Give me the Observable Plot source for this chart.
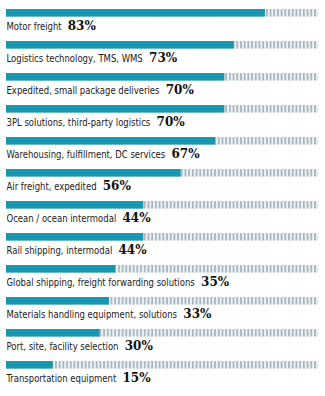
<!DOCTYPE html>
<html>
<head>
<meta charset="utf-8">
<script src="https://cdn.jsdelivr.net/npm/d3@7"></script>
<script src="https://cdn.jsdelivr.net/npm/@observablehq/plot@0.6"></script>
<style>
  html, body { margin: 0; padding: 0; background: #fff; }
  #chart svg { display: block; }
</style>
</head>
<body>
<div id="chart"></div>
<script>
const categories = [
  "Motor freight",
  "Logistics technology, TMS, WMS",
  "Expedited, small package deliveries",
  "3PL solutions, third-party logistics",
  "Warehousing, fulfillment, DC services",
  "Air freight, expedited",
  "Ocean / ocean intermodal",
  "Rail shipping, intermodal",
  "Global shipping, freight forwarding solutions",
  "Materials handling equipment, solutions",
  "Port, site, facility selection",
  "Transportation equipment"
];
const values = [83, 73, 70, 70, 67, 56, 44, 44, 35, 33, 30, 15];
const maxValue = 100;

const data = categories.map((c, i) => ({category: c, value: values[i], max: maxValue, pct: values[i] + "%"}));

const W = 325, H = 396;
const marginTop = 6, marginBottom = 1;
const band = (H - marginTop - marginBottom) / categories.length;
const barH = 8;
const labelScale = 0.9;

const chart = Plot.plot({
  width: W,
  height: H,
  marginTop,
  marginBottom,
  marginLeft: 6,
  marginRight: 7,
  x: {domain: [0, maxValue], axis: null},
  y: {domain: categories, axis: null, padding: 0},
  style: {background: "#fff"},
  marks: [
    Plot.barX(data, {x: "max", y: "category", fill: "url(#stripes)", insetBottom: band - barH}),
    Plot.barX(data, {x: "value", y: "category", fill: "#1898b0", insetBottom: band - barH}),
    Plot.text(data, {
      x: 0, y: "category", text: "category",
      textAnchor: "start", dy: 0.8,
      fontFamily: "'DejaVu Sans Condensed', 'DejaVu Sans', sans-serif",
      fontSize: 10.5, fill: "#222",
      className: "cat-label"
    }),
    Plot.text(data, {
      x: 0, y: "category", text: "pct",
      textAnchor: "start", dy: 0.8,
      fontFamily: "'DejaVu Serif', 'Liberation Serif', serif",
      fontWeight: "bold",
      fontSize: 12, fill: "#111",
      className: "pct-label"
    })
  ]
});

// stripe pattern for the 100% background
const svgNS = "http://www.w3.org/2000/svg";
const defs = document.createElementNS(svgNS, "defs");
const pat = document.createElementNS(svgNS, "pattern");
pat.setAttribute("id", "stripes");
pat.setAttribute("patternUnits", "userSpaceOnUse");
pat.setAttribute("x", "6");
pat.setAttribute("y", "0");
pat.setAttribute("width", "3.7");
pat.setAttribute("height", "10");
const bg = document.createElementNS(svgNS, "rect");
bg.setAttribute("width", "3.7"); bg.setAttribute("height", "10"); bg.setAttribute("fill", "#eef2f4");
const st = document.createElementNS(svgNS, "rect");
st.setAttribute("x", "1"); st.setAttribute("width", "1.7"); st.setAttribute("height", "10"); st.setAttribute("fill", "#a6b5bd");
pat.appendChild(bg); pat.appendChild(st);
defs.appendChild(pat);
chart.insertBefore(defs, chart.firstChild);

document.getElementById("chart").appendChild(chart);

// condense category labels, and place percentages right after them
const labels = chart.querySelectorAll("g.cat-label text");
const pcts = chart.querySelectorAll("g.pct-label text");
const parseT = (s) => {
  const m = /translate\(\s*([-\d.e]+)[ ,]+([-\d.e]+)\s*\)/.exec(s || "");
  return m ? [+m[1], +m[2]] : [0, 0];
};
labels.forEach((t, i) => {
  const [x, y] = parseT(t.getAttribute("transform"));
  const w = t.getComputedTextLength() * labelScale;
  t.setAttribute("transform", `translate(${x},${y}) scale(${labelScale},1)`);
  const p = pcts[i];
  if (p) {
    const [px, py] = parseT(p.getAttribute("transform"));
    p.setAttribute("transform", `translate(${px + w + 6},${py})`);
  }
});
</script>
</body>
</html>
